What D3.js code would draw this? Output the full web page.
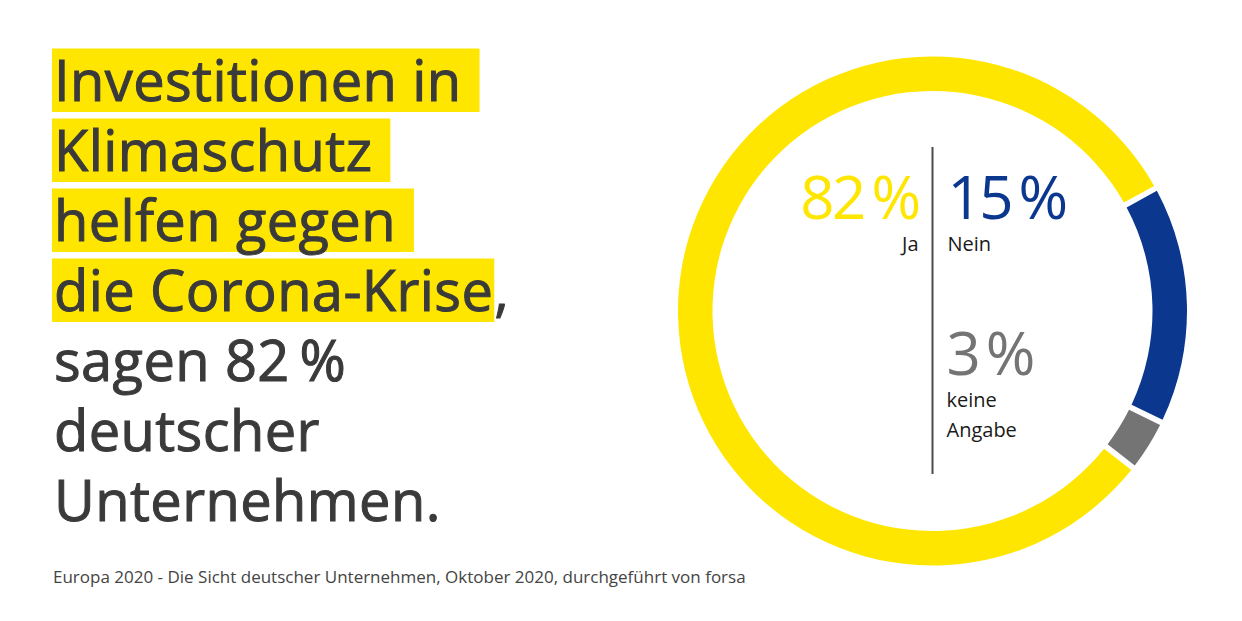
<!DOCTYPE html>
<html><head><meta charset="utf-8">
<script src="https://cdn.jsdelivr.net/npm/d3@7"></script>
<style>html,body{margin:0;padding:0;background:#fff;}svg{display:block;}</style>
</head><body>
<svg id="chart" width="1242" height="621"></svg>
<script>
// ---- data ----
const categories = ["Ja", "Nein", "keine Angabe"];
const values = [82, 15, 3];
const valueLabels = ["82\u2009%", "15\u2009%", "3\u2009%"];
const categoryLabelLines = [["Ja"], ["Nein"], ["keine", "Angabe"]];
const colors = ["#ffe600", "#0c378f", "#747474"];
const titleHighlighted = ["Investitionen in", "Klimaschutz", "helfen gegen", "die Corona-Krise"];
const titleTrailing = [" ", " ", " ", ","];
const titlePlain = ["sagen 82\u2009%", "deutscher", "Unternehmen."];
const footnote = "Europa 2020 - Die Sicht deutscher Unternehmen, Oktober 2020, durchgeführt von forsa";

const svg = d3.select("#chart");
const FONT = "'Open Sans', 'Noto Sans', sans-serif";
const textColor = "#3a3a3a";

// ---- title ----
const tx = 54, baseline0 = 101, lineStep = 70;
const tg = svg.append("g").attr("font-family", FONT).attr("font-size", 56)
  .attr("fill", textColor).attr("letter-spacing", 0.4);
titleHighlighted.forEach((line, i) => {
  const y = baseline0 + i * lineStep;
  const rect = tg.append("rect").attr("fill", "#ffe600");
  const t = tg.append("text").attr("x", tx).attr("y", y)
    .attr("stroke", textColor).attr("stroke-width", 1.0).text(line);
  const w = t.node().getComputedTextLength();
  const extra = titleTrailing[i] === " " ? 18 : 1;
  rect.attr("x", tx - 2).attr("y", y - 52.5).attr("width", w + 2 + extra).attr("height", 63.5);
  if (titleTrailing[i] !== " ") {
    tg.append("text").attr("x", tx + w + 1).attr("y", y)
      .attr("stroke", textColor).attr("stroke-width", 1.0).text(titleTrailing[i]);
  }
});
titlePlain.forEach((line, i) => {
  const y = baseline0 + (titleHighlighted.length + i) * lineStep;
  tg.append("text").attr("x", tx).attr("y", y)
    .attr("stroke", textColor).attr("stroke-width", 1.0).text(line);
});

// ---- footnote ----
svg.append("text").attr("x", 53).attr("y", 583)
  .attr("font-family", FONT).attr("font-size", 17).attr("fill", "#444")
  .text(footnote);

// ---- donut ----
const cx = 932.5, cy = 311, outerR = 254.5, innerR = 220;
const startDeg = 128;
const pie = d3.pie().sort(null)
  .startAngle(startDeg * Math.PI / 180)
  .endAngle(startDeg * Math.PI / 180 + 2 * Math.PI)
  .padAngle(0.024);
const arc = d3.arc().innerRadius(innerR).outerRadius(outerR).padRadius(237);
const dg = svg.append("g").attr("transform", `translate(${cx},${cy})`);
dg.selectAll("path").data(pie(values)).join("path")
  .attr("d", arc).attr("fill", (d, i) => colors[i]);

// divider
svg.append("line").attr("x1", cx).attr("x2", cx).attr("y1", 147).attr("y2", 474)
  .attr("stroke", "#4a4a4a").attr("stroke-width", 2);

// labels
const labelPos = [
  {x: cx - 14, y: 219, anchor: "end"},
  {x: cx + 15, y: 219, anchor: "start"},
  {x: cx + 14, y: 375, anchor: "start"}
];
const lg = svg.append("g").attr("font-family", FONT);
values.forEach((v, i) => {
  const p = labelPos[i];
  lg.append("text").attr("x", p.x).attr("y", p.y).attr("text-anchor", p.anchor)
    .attr("font-size", 60).attr("fill", colors[i]).attr("letter-spacing", -2.5)
    .text(valueLabels[i]);
  categoryLabelLines[i].forEach((l, j) => {
    lg.append("text").attr("x", p.x).attr("y", p.y + 32 + j * 30).attr("text-anchor", p.anchor)
      .attr("font-size", 20).attr("fill", "#1a1a1a").text(l);
  });
});
</script>
</body></html>
